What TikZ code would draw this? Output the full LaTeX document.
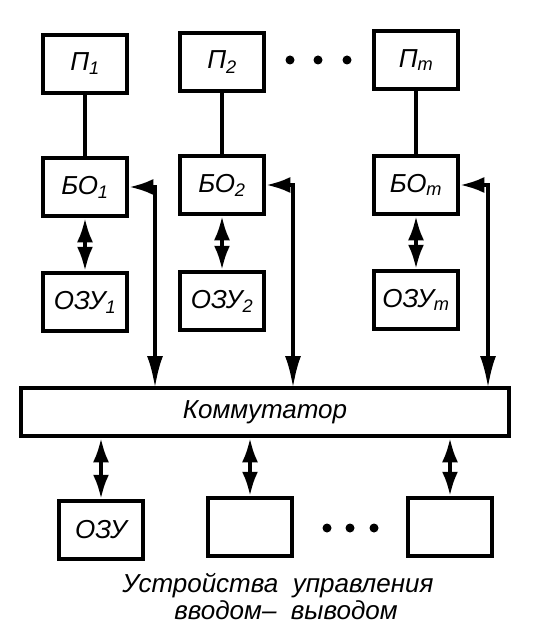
\documentclass[tikz,border=0pt]{standalone}
\usepackage{fontspec}
\setmainfont{Liberation Sans}
\usetikzlibrary{arrows.meta}
\newcommand{\ix}[1]{\textsubscript{#1}}
\begin{document}
\begin{tikzpicture}[x=1pt, y=-1pt, font=\fontsize{26}{27}\selectfont\itshape]
    \tikzset{
      blk/.style={draw, line width=4.5pt, minimum width=84pt, minimum height=58pt,
                  inner sep=1pt},
      wire/.style={line width=3.5pt},
      bus/.style={wire, {Latex[length=24pt, width=16pt]}-{Latex[length=32pt, width=16pt]}},
      dbl/.style={wire, {Latex[length=24pt, width=16pt]}-{Latex[length=24pt, width=16pt]}},
      dot/.style={circle, fill, inner sep=0pt, minimum size=9pt},
    }
    \useasboundingbox (0,0) rectangle (548,636);
    % processors
    \node[blk] (p1) at (85,64)  {П\ix{1}};
    \node[blk] (p2) at (222,62) {П\ix{2}};
    \node[blk] (pm) at (416,60) {П\ix{\textit{m}}};
    \node[dot] (d1) at (290,60) {};
    \node[dot] (d2) at (318,60) {};
    \node[dot] (d3) at (347,60) {};

    % exchange units
    \node[blk] (bo1) at (85,187)  {БО\ix{1}};
    \node[blk] (bo2) at (222,185) {БО\ix{2}};
    \node[blk] (bom) at (416,185) {БО\ix{\textit{m}}};

    % local memories
    \node[blk] (ozu1) at (85,302)  {ОЗУ\ix{1}};
    \node[blk] (ozu2) at (222,301) {ОЗУ\ix{2}};
    \node[blk] (ozum) at (416,300) {ОЗУ\ix{\textit{m}}};

    % switch
    \node[blk, minimum width=488pt, minimum height=48pt] (komm) at (265,412) {Коммутатор};
    \coordinate (k1) at (155,388);
    \coordinate (k2) at (293,388);
    \coordinate (k3) at (488,388);

    % common memory and i/o units
    \node[blk] (ozu) at (101,530) {ОЗУ};
    \node[blk] (io1) at (250,527) {};
    \node[blk] (io2) at (450,527) {};
    \node[dot] (e1) at (327,528) {};
    \node[dot] (e2) at (350,528) {};
    \node[dot] (e3) at (374,528) {};
    \node[align=center, inner sep=0pt] (cap) at (278,597)
      {Устройства \ управления\\\hspace*{16pt}вводом-- \ выводом};

    \draw[wire] (p1) -- (bo1);
    \draw[wire] (p2) -- (bo2);
    \draw[wire] (pm) -- (bom);
    \draw[dbl] (bo1) -- (ozu1);
    \draw[dbl] (bo2) -- (ozu2);
    \draw[dbl] (bom) -- (ozum);
    \draw[bus] (bo1.east) -| (k1);
    \draw[bus] (bo2.east) -| (k2);
    \draw[bus] (bom.east) -| (k3);
    \draw[dbl] (komm.south -| ozu.north) -- (ozu.north);
    \draw[dbl] (komm.south -| io1.north) -- (io1.north);
    \draw[dbl] (komm.south -| io2.north) -- (io2.north);
  \end{tikzpicture}
\end{document}
